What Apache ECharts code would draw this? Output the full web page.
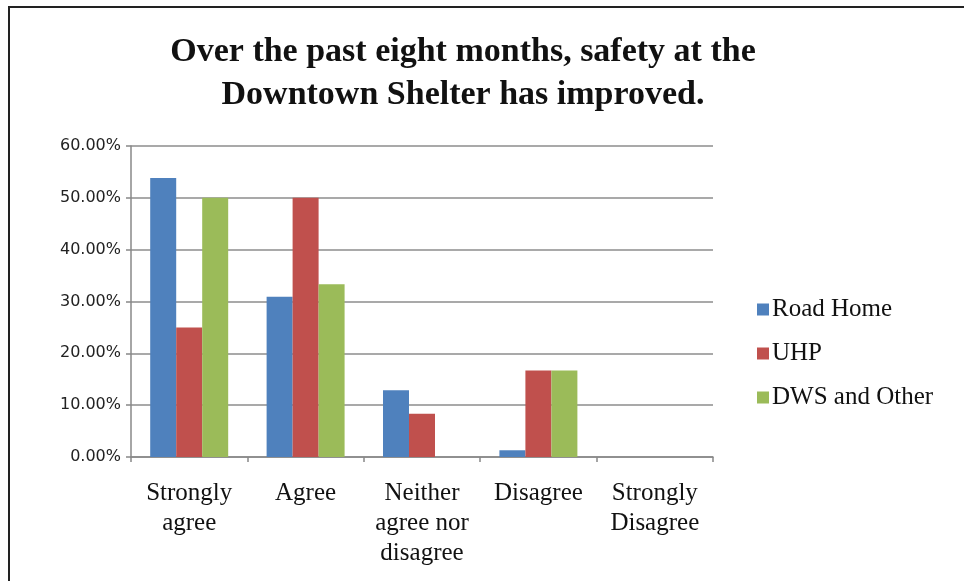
<!doctype html>
<html>
<head>
<meta charset="UTF-8">
<title>Downtown Shelter safety</title>
<script src="https://cdn.jsdelivr.net/npm/echarts@6/dist/echarts.min.js"></script>
<style>
  html, body { margin: 0; padding: 0; background: #fff; }
  #main { width: 964px; height: 581px; }
</style>
</head>
<body>
<div id="main"></div>
<script>
// data (percent)
var categories = ['Strongly\nagree', 'Agree', 'Neither\nagree nor\ndisagree', 'Disagree', 'Strongly\nDisagree'];
var roadHome = [53.85, 30.9, 12.9, 1.3, 0];
var uhp = [25, 50, 8.33, 16.67, 0];
var dwsOther = [50, 33.33, 0, 16.67, 0];
var seriesNames = ['Road Home', 'UHP', 'DWS and Other'];

var serif = '"Liberation Serif", "Times New Roman", serif';

var myChart = echarts.init(document.getElementById('main'));

var option = {
    backgroundColor: '#fff',
    animation: false,
    title: {
        text: 'Over the past eight months, safety at the\nDowntown Shelter has improved.',
        left: 458,
        textAlign: 'center',
        top: 26,
        textStyle: {
            fontFamily: serif,
            fontWeight: 'bold',
            fontSize: 34,
            lineHeight: 43,
            color: '#111'
        }
    },
    legend: {
        orient: 'vertical',
        left: 752,
        top: 292,
        itemWidth: 12,
        itemHeight: 12,
        itemGap: 19,
        icon: 'rect',
        data: seriesNames,
        textStyle: { fontFamily: serif, fontSize: 25, color: '#111', padding: [0, 0, 0, -2] }
    },
    grid: { left: 131, right: 251, top: 146, bottom: 124 },
    xAxis: {
        type: 'category',
        data: categories,
        axisLine: { lineStyle: { color: '#888', width: 1.5 } },
        axisTick: { show: true, length: 5, lineStyle: { color: '#888', width: 1.5 } },
        axisLabel: { fontFamily: serif, fontSize: 25, lineHeight: 30, color: '#111', margin: 21, interval: 0 }
    },
    yAxis: {
        type: 'value',
        min: 0,
        max: 60,
        interval: 10,
        axisLine: { show: true, lineStyle: { color: '#888', width: 1.5 } },
        axisTick: { show: true, length: 5, lineStyle: { color: '#888', width: 1.5 } },
        splitLine: { lineStyle: { color: '#8c8c8c', width: 1.5 } },
        axisLabel: {
            fontFamily: '"DejaVu Sans", sans-serif',
            fontSize: 16,
            color: '#222',
            margin: 10,
            formatter: function (v) { return v.toFixed(2) + '%'; }
        }
    },
    series: [
        { name: seriesNames[0], type: 'bar', data: roadHome, barGap: '0%', barCategoryGap: '33%', itemStyle: { color: '#4F81BD' } },
        { name: seriesNames[1], type: 'bar', data: uhp, itemStyle: { color: '#C0504D' } },
        { name: seriesNames[2], type: 'bar', data: dwsOther, itemStyle: { color: '#9BBB59' } }
    ],
    graphic: [
        // frame of the original slide (top and left edges)
        { type: 'line', shape: { x1: 8, y1: 7, x2: 964, y2: 7 }, style: { stroke: '#222', lineWidth: 2 } },
        { type: 'line', shape: { x1: 9, y1: 6, x2: 9, y2: 581 }, style: { stroke: '#222', lineWidth: 2 } }
    ]
};

myChart.setOption(option);
</script>
</body>
</html>
